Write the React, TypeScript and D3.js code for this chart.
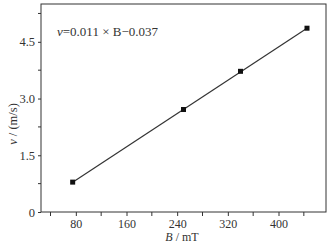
import * as d3 from 'd3';
import { useRef, useEffect } from 'react';

// --- data ---
const fieldB = [75, 250, 340, 445]; // B / mT
const speedV = [0.79, 2.71, 3.72, 4.86]; // v / (m/s)
const xTicks = [80, 160, 240, 320, 400];
const xMinor = [40, 120, 200, 280, 360, 440];
const yTicks = [0, 1.5, 3.0, 4.5];
const yMinor = [0.75, 2.25, 3.75, 5.25];
const fitSlope = 0.011;
const fitIntercept = -0.037;

export default function App() {
  const ref = useRef<SVGSVGElement>(null);

  useEffect(() => {
    const width = 334;
    const height = 247;
    const margin = { top: 4, right: 8, bottom: 35, left: 41 };
    const font = "'Liberation Serif', 'Times New Roman', serif";

    const svg = d3.select(ref.current)
      .attr("width", width)
      .attr("height", height)
      .style("font-family", font);
    svg.selectAll("*").remove();

    const x = d3.scaleLinear().domain([25, 475]).range([margin.left, width - margin.right]);
    const y = d3.scaleLinear().domain([0, 5.5]).range([height - margin.bottom, margin.top]);

    svg.append("rect")
      .attr("width", width).attr("height", height).attr("fill", "#fff");

    // frame
    svg.append("rect")
      .attr("x", x(25)).attr("y", y(5.5))
      .attr("width", x(475) - x(25)).attr("height", y(0) - y(5.5))
      .attr("fill", "none").attr("stroke", "#333").attr("stroke-width", 1);

    // x axis
    const gx = svg.append("g")
      .attr("transform", `translate(0,${y(0)})`)
      .call(d3.axisBottom(x).tickValues(xTicks).tickSize(4).tickPadding(3).tickFormat(d3.format("d")));
    gx.append("g").selectAll("line").data(xMinor).join("line")
      .attr("x1", d => x(d)).attr("x2", d => x(d)).attr("y1", 0).attr("y2", 4)
      .attr("stroke", "#333");

    // y axis
    const gy = svg.append("g")
      .attr("transform", `translate(${x(25)},0)`)
      .call(d3.axisLeft(y).tickValues(yTicks).tickSize(3).tickPadding(3)
        .tickFormat(d => (d === 0 ? "0" : d3.format(".1f")(d as number))));
    gy.append("g").selectAll("line").data(yMinor).join("line")
      .attr("x1", -3).attr("x2", 0).attr("y1", d => y(d)).attr("y2", d => y(d))
      .attr("stroke", "#333");

    [gx, gy].forEach(g => {
      g.select(".domain").remove();
      g.selectAll(".tick line").attr("stroke", "#333");
      g.selectAll("text").attr("fill", "#333").attr("font-family", font);
    });
    gx.selectAll("text").attr("font-size", 12);
    gy.selectAll("text").attr("font-size", 12.5);

    // fit line
    const bRange = [fieldB[0], fieldB[fieldB.length - 1]];
    svg.append("path")
      .datum(bRange)
      .attr("fill", "none")
      .attr("stroke", "#333")
      .attr("stroke-width", 1.2)
      .attr("d", d3.line<number>().x(b => x(b)).y(b => y(fitSlope * b + fitIntercept)));

    // points
    svg.append("g").selectAll("rect").data(fieldB).join("rect")
      .attr("x", (b) => x(b) - 2.5)
      .attr("y", (b, i) => y(speedV[i]) - 2.5)
      .attr("width", 5).attr("height", 5)
      .attr("fill", "#111");

    // equation
    const eq = svg.append("text")
      .attr("x", 57).attr("y", 36)
      .attr("font-size", 13).attr("fill", "#333");
    eq.append("tspan").attr("font-style", "italic").text("v");
    eq.append("tspan").text(`=${fitSlope} × B−${Math.abs(fitIntercept)}`);

    // axis titles
    const xl = svg.append("text")
      .attr("x", 182).attr("y", 241).attr("text-anchor", "middle")
      .attr("font-size", 12).attr("fill", "#333");
    xl.append("tspan").attr("font-style", "italic").text("B");
    xl.append("tspan").text(" / mT");

    const yl = svg.append("text")
      .attr("transform", "translate(17,124) rotate(-90)")
      .attr("text-anchor", "middle")
      .attr("font-size", 12.5).attr("fill", "#333");
    yl.append("tspan").attr("font-style", "italic").text("v");
    yl.append("tspan").text(" / (m/s)");
  }, []);

  return <svg ref={ref} style={{ position: "absolute", left: 0, top: 0 }}></svg>;
}
